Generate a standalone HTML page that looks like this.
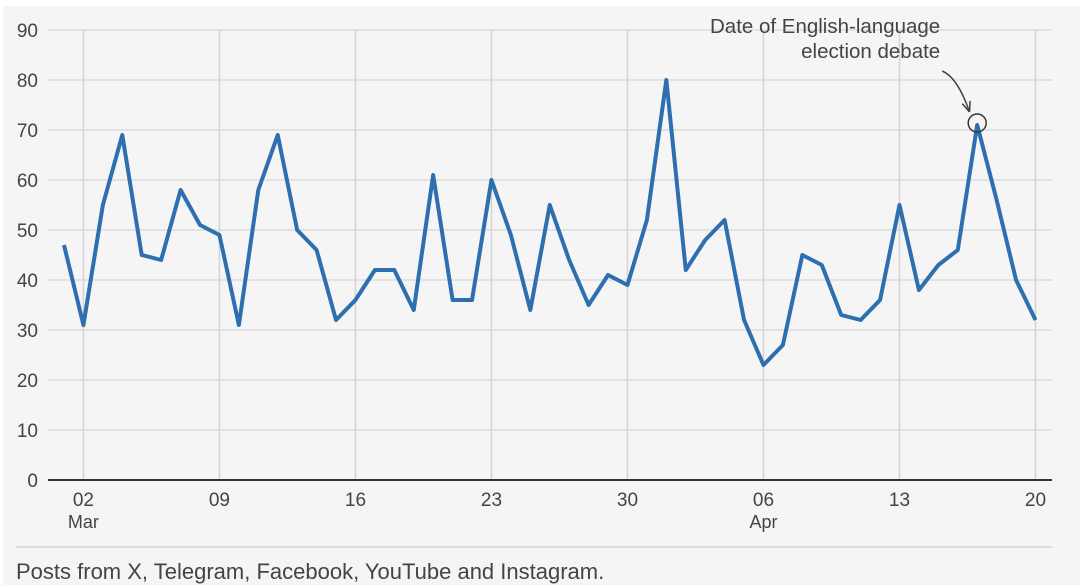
<!DOCTYPE html>
<html><head><meta charset="utf-8"><style>
html,body{margin:0;padding:0;background:#fff;}
#wrap{position:absolute;left:3px;top:6px;width:1077px;height:579px;background:#f5f5f5;}
svg{position:absolute;left:0;top:0;}
text{font-family:"Liberation Sans",sans-serif;fill:#444;}
</style></head><body>
<div id="wrap"></div>
<svg id="chart" width="1080" height="585">
<defs><marker id="arr" viewBox="0 0 10 10" refX="9" refY="5" markerWidth="7" markerHeight="7" orient="auto"><path d="M0,1 L10,5 L0,9" fill="none" stroke="#444" stroke-width="1.5"/></marker></defs>
</svg>
<script>
const days = ["Mar 1","Mar 2","Mar 3","Mar 4","Mar 5","Mar 6","Mar 7","Mar 8","Mar 9","Mar 10","Mar 11","Mar 12","Mar 13","Mar 14","Mar 15","Mar 16","Mar 17","Mar 18","Mar 19","Mar 20","Mar 21","Mar 22","Mar 23","Mar 24","Mar 25","Mar 26","Mar 27","Mar 28","Mar 29","Mar 30","Mar 31","Apr 1","Apr 2","Apr 3","Apr 4","Apr 5","Apr 6","Apr 7","Apr 8","Apr 9","Apr 10","Apr 11","Apr 12","Apr 13","Apr 14","Apr 15","Apr 16","Apr 17","Apr 18","Apr 19","Apr 20"];
const posts = [47,31,55,69,45,44,58,51,49,31,58,69,50,46,32,36,42,42,34,61,36,36,60,49,34,55,44,35,41,39,52,80,42,48,52,32,23,27,45,43,33,32,36,55,38,43,46,71,56,40,32];
const yTicks = [0,10,20,30,40,50,60,70,80,90];
const xTickIdx = [1,8,15,22,29,36,43,50];
const xTickLabels = ["02","09","16","23","30","06","13","20"];
const xTickSub = ["Mar","","","","","Apr","",""];
const annotIdx = 47;

const NS="http://www.w3.org/2000/svg";
const svg=document.getElementById('chart');
const x0=64, dx=19.43, yBase=480, yScale=5;
const X=i=>x0+i*dx, Y=v=>yBase-v*yScale;
function mk(t,a,parent){const e=document.createElementNS(NS,t);for(const k in a)e.setAttribute(k,a[k]);(parent||svg).appendChild(e);return e;}

yTicks.forEach(v=>{
  if(v>0){const g=mk('line',{x1:48,x2:1052,y1:Y(v),y2:Y(v),stroke:'#dcdcdc','stroke-width':1.5});
  
  }
  const t=mk('text',{x:38,y:Y(v)+7,'text-anchor':'end','font-size':19});
  t.textContent=v;
  
  
});
xTickIdx.forEach((idx,k)=>{
  const g=mk('line',{x1:X(idx),x2:X(idx),y1:Y(90),y2:yBase,stroke:'#d4d4d4','stroke-width':1.5});
  
  
  const t=mk('text',{x:X(idx),y:506,'text-anchor':'middle','font-size':19});
  t.textContent=xTickLabels[k];
  
  
  if(xTickSub[k]){const s=mk('text',{x:X(idx),y:528,'text-anchor':'middle','font-size':18});
  s.textContent=xTickSub[k];
  
  }
});
const base=mk('line',{x1:48,x2:1052,y1:yBase,y2:yBase,stroke:'#333','stroke-width':2});



const line=mk('polyline',{points:posts.map((v,i)=>X(i)+','+Y(v)).join(' '),fill:'none',stroke:'#2e6fb0','stroke-width':4,'stroke-linejoin':'round'});



const ax=X(annotIdx), ay=Y(posts[annotIdx]);
const c=mk('circle',{cx:ax,cy:ay-2,r:9,fill:'none',stroke:'#333','stroke-width':1.5});


const p=mk('path',{d:`M${ax-35},${ay-54} Q${ax-20},${ay-48} ${ax-8},${ay-14}`,fill:'none',stroke:'#444','stroke-width':1.5,'marker-end':'url(#arr)'});


const a1=mk('text',{x:ax-37,y:33,'text-anchor':'end','font-size':20.5});
a1.textContent='Date of English-language';


const a2=mk('text',{x:ax-37,y:58,'text-anchor':'end','font-size':20.5});
a2.textContent='election debate';



const sep=mk('line',{x1:16,x2:1052,y1:547,y2:547,stroke:'#d4d4d4','stroke-width':1.5});


const f=mk('text',{x:16,y:579,'font-size':22});
f.textContent='Posts from X, Telegram, Facebook, YouTube and Instagram.';


</script>
</body></html>
